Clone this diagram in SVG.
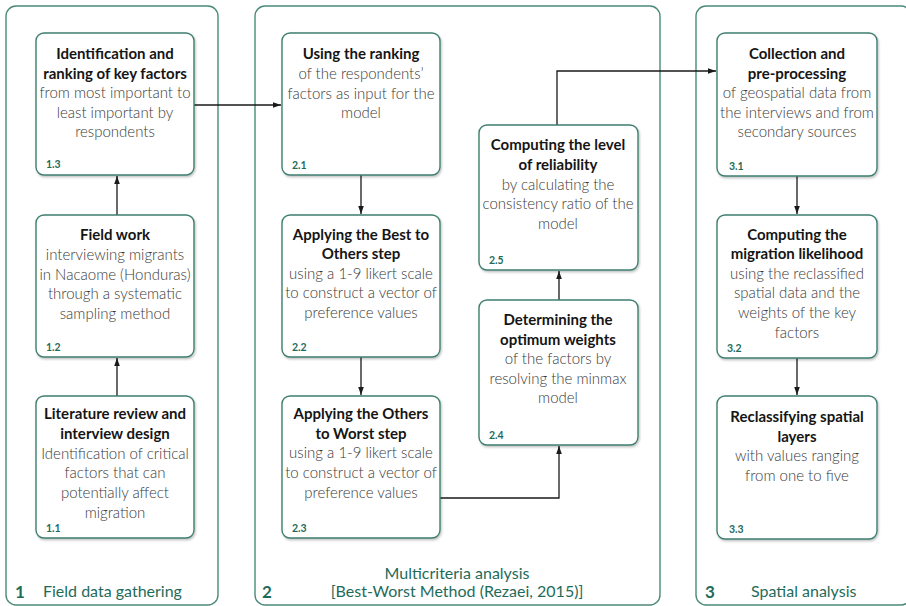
<svg xmlns="http://www.w3.org/2000/svg" width="906" height="606" viewBox="0 0 906 606">
<style>
.panel{fill:#fff;stroke:#4a8a7a;stroke-width:1.4}
.box{fill:#fff;stroke:#3f7f70;stroke-width:1.4;filter:url(#sh)}
.t{font-family:Lato,"Open Sans",sans-serif;font-size:15px;text-anchor:middle}
.b{font-weight:bold;fill:#151515}
.n{font-weight:300;fill:#3a3a3a}
.num{font-family:Lato,"Open Sans",sans-serif;font-size:10.5px;font-weight:bold;fill:#1f6b5a}
.pnum{font-family:Lato,"Open Sans",sans-serif;font-size:17px;font-weight:bold;fill:#1f6b5a}
.plab{font-family:Lato,"Open Sans",sans-serif;font-size:16px;fill:#1f6b5a}
.c{fill:none;stroke:#1a1a1a;stroke-width:1.3;marker-end:url(#ah)}
</style>
<defs>
<marker id="ah" viewBox="0 0 10 10" refX="10" refY="5" markerWidth="8" markerHeight="8" markerUnits="userSpaceOnUse" orient="auto">
<path d="M0,1.5 L10,5 L0,8.5 Z" fill="#1a1a1a"/>
</marker>
<filter id="sh" x="-5%" y="-5%" width="115%" height="115%">
<feDropShadow dx="1" dy="1.5" stdDeviation="1" flood-color="#000" flood-opacity="0.25"/>
</filter>
</defs>
<rect width="906" height="606" fill="#fff"/>

<g id="panel1">
<rect class="panel" x="6" y="6" width="212" height="599" rx="10"/>
<text class="pnum" x="15" y="598">1</text>
<text class="plab" x="43" y="597">Field data gathering</text>
</g>
<g id="panel2">
<rect class="panel" x="255" y="6" width="405" height="599" rx="10"/>
<text class="pnum" x="262" y="598">2</text>
<text class="plab" x="457" y="579" text-anchor="middle">Multicriteria analysis</text>
<text class="plab" x="457" y="597" text-anchor="middle">[Best-Worst Method (Rezaei, 2015)]</text>
</g>
<g id="panel3">
<rect class="panel" x="696" y="6" width="215" height="599" rx="10"/>
<text class="pnum" x="705" y="598">3</text>
<text class="plab" x="751" y="597">Spatial analysis</text>
</g>

<g id="connectors">
<path class="c" d="M194,105 H281"/>
<path class="c" d="M117,215 V176"/>
<path class="c" d="M117,396 V358"/>
<path class="c" d="M361,175 V214"/>
<path class="c" d="M361,357 V395"/>
<path class="c" d="M440,498 H559 V446"/>
<path class="c" d="M559,300 V271"/>
<path class="c" d="M557,125 V71 H716"/>
<path class="c" d="M797,176 V214"/>
<path class="c" d="M797,357 V395"/>
</g>

<g id="n1_3">
<rect class="box" x="36" y="33" width="158" height="142" rx="8"/>
<text class="t b" x="115" y="59">Identification and</text>
<text class="t b" x="115" y="79">ranking of key factors</text>
<text class="t n" x="115" y="98">from most important to</text>
<text class="t n" x="115" y="118">least important by</text>
<text class="t n" x="115" y="137">respondents</text>
<text class="num" x="46" y="168">1.3</text>
</g>
<g id="n1_2">
<rect class="box" x="36" y="215" width="158" height="142" rx="8"/>
<text class="t b" x="115" y="240">Field work</text>
<text class="t n" x="115" y="260">interviewing migrants</text>
<text class="t n" x="115" y="280">in Nacaome (Honduras)</text>
<text class="t n" x="115" y="299">through a systematic</text>
<text class="t n" x="115" y="319">sampling method</text>
<text class="num" x="46" y="351">1.2</text>
</g>
<g id="n1_1">
<rect class="box" x="36" y="396" width="158" height="142" rx="8"/>
<text class="t b" x="115" y="419">Literature review and</text>
<text class="t b" x="115" y="439">interview design</text>
<text class="t n" x="115" y="459">Identification of critical</text>
<text class="t n" x="115" y="478">factors that can</text>
<text class="t n" x="115" y="498">potentially affect</text>
<text class="t n" x="115" y="518">migration</text>
<text class="num" x="46" y="532">1.1</text>
</g>

<g id="n2_1">
<rect class="box" x="282" y="33" width="158" height="142" rx="8"/>
<text class="t b" x="361" y="59">Using the ranking</text>
<text class="t n" x="361" y="79">of the respondents’</text>
<text class="t n" x="361" y="99">factors as input for the</text>
<text class="t n" x="361" y="118">model</text>
<text class="num" x="292" y="169">2.1</text>
</g>
<g id="n2_2">
<rect class="box" x="282" y="215" width="158" height="142" rx="8"/>
<text class="t b" x="361" y="240">Applying the Best to</text>
<text class="t b" x="361" y="259">Others step</text>
<text class="t n" x="361" y="279">using a 1-9 likert scale</text>
<text class="t n" x="361" y="298">to construct a vector of</text>
<text class="t n" x="361" y="318">preference values</text>
<text class="num" x="292" y="351">2.2</text>
</g>
<g id="n2_3">
<rect class="box" x="282" y="396" width="158" height="142" rx="8"/>
<text class="t b" x="361" y="419">Applying the Others</text>
<text class="t b" x="361" y="439">to Worst step</text>
<text class="t n" x="361" y="458">using a 1-9 likert scale</text>
<text class="t n" x="361" y="478">to construct a vector of</text>
<text class="t n" x="361" y="498">preference values</text>
<text class="num" x="292" y="532">2.3</text>
</g>
<g id="n2_5">
<rect class="box" x="479" y="125" width="159" height="145" rx="8"/>
<text class="t b" x="558" y="150">Computing the level</text>
<text class="t b" x="558" y="170">of reliability</text>
<text class="t n" x="558" y="190">by calculating the</text>
<text class="t n" x="558" y="209">consistency ratio of the</text>
<text class="t n" x="558" y="229">model</text>
<text class="num" x="489" y="264">2.5</text>
</g>
<g id="n2_4">
<rect class="box" x="479" y="300" width="159" height="145" rx="8"/>
<text class="t b" x="558" y="325">Determining the</text>
<text class="t b" x="558" y="345">optimum weights</text>
<text class="t n" x="558" y="364">of the factors by</text>
<text class="t n" x="558" y="384">resolving the minmax</text>
<text class="t n" x="558" y="403">model</text>
<text class="num" x="489" y="439">2.4</text>
</g>

<g id="n3_1">
<rect class="box" x="717" y="33" width="160" height="143" rx="8"/>
<text class="t b" x="797" y="59">Collection and</text>
<text class="t b" x="797" y="79">pre-processing</text>
<text class="t n" x="797" y="98">of geospatial data from</text>
<text class="t n" x="797" y="118">the interviews and from</text>
<text class="t n" x="797" y="137">secondary sources</text>
<text class="num" x="729" y="170">3.1</text>
</g>
<g id="n3_2">
<rect class="box" x="717" y="215" width="160" height="143" rx="8"/>
<text class="t b" x="797" y="240">Computing the</text>
<text class="t b" x="797" y="259">migration likelihood</text>
<text class="t n" x="797" y="279">using the reclassified</text>
<text class="t n" x="797" y="298">spatial data and the</text>
<text class="t n" x="797" y="318">weights of the key</text>
<text class="t n" x="797" y="338">factors</text>
<text class="num" x="727" y="352">3.2</text>
</g>
<g id="n3_3">
<rect class="box" x="717" y="396" width="160" height="143" rx="8"/>
<text class="t b" x="797" y="422">Reclassifying spatial</text>
<text class="t b" x="797" y="442">layers</text>
<text class="t n" x="797" y="461">with values ranging</text>
<text class="t n" x="797" y="481">from one to five</text>
<text class="num" x="729" y="533">3.3</text>
</g>
</svg>
